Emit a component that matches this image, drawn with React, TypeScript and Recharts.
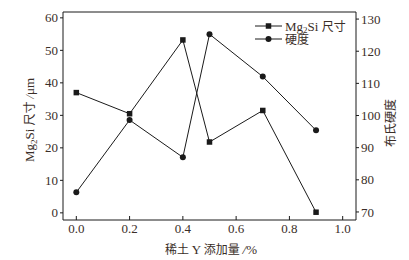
import React from 'react';
import { ComposedChart, Line, XAxis, YAxis, ReferenceLine } from 'recharts';

const yAdd = [0.0, 0.2, 0.4, 0.5, 0.7, 0.9];
const mg2siSize = [37.0, 30.5, 53.2, 21.8, 31.5, 0.2];
const hardness = [76.1, 98.6, 87.0, 125.3, 112.1, 95.4];
const xTicks = [0.0, 0.2, 0.4, 0.6, 0.8, 1.0];
const leftTicks = [0, 10, 20, 30, 40, 50, 60];
const rightTicks = [70, 80, 90, 100, 110, 120, 130];

const data = yAdd.map((x, i) => ({ x, size: mg2siSize[i], hard: hardness[i] }));

const SERIF = '"Liberation Serif", "Noto Sans CJK SC", serif';
const CJK = '"Noto Sans CJK SC", sans-serif';
const TXT = '#3a2e28';
const LINE = '#1a1a1a';

const SquareDot = (props: any) => {
  const { cx, cy } = props;
  if (cx == null || cy == null) return null;
  return <rect x={cx - 2.75} y={cy - 2.75} width={5.5} height={5.5} fill={LINE} />;
};
const CircleDot = (props: any) => {
  const { cx, cy } = props;
  if (cx == null || cy == null) return null;
  return <circle cx={cx} cy={cy} r={3} fill={LINE} />;
};

const LeftTitle = () => (
  <text
    transform="translate(34,120) rotate(-90)"
    textAnchor="middle"
    fill={TXT}
    fontSize={13}
    fontFamily={SERIF}
  >
    <tspan>M</tspan>
    <tspan>g</tspan>
    <tspan fontSize={9} dy={3}>2</tspan>
    <tspan dy={-3}>Si </tspan>
    <tspan fontFamily={CJK} fontSize={12}>尺寸 </tspan>
    <tspan fontStyle="italic">/</tspan>
    <tspan>μm</tspan>
  </text>
);

const RightTitle = () => (
  <text
    transform="translate(395,123) rotate(-90)"
    textAnchor="middle"
    fill={TXT}
    fontSize={12}
    fontFamily={CJK}
  >
    布氏硬度
  </text>
);

const BottomTitle = () => (
  <text x={211} y={254} textAnchor="middle" fill={TXT} fontSize={13} fontFamily={SERIF}>
    <tspan fontFamily={CJK} fontSize={12}>稀土 </tspan>
    <tspan>Y </tspan>
    <tspan fontFamily={CJK} fontSize={12}>添加量 </tspan>
    <tspan fontStyle="italic">/</tspan>
    <tspan>%</tspan>
  </text>
);

const LegendBox = () => (
  <g transform="translate(254,19)">
    <line x1={1} y1={7} x2={28} y2={7} stroke={LINE} strokeWidth={1} />
    <rect x={11.75} y={4.25} width={5.5} height={5.5} fill={LINE} />
    <text x={31} y={11.5} fontSize={13} fontFamily={SERIF} fill={TXT}>
      <tspan>Mg</tspan>
      <tspan fontSize={9} dy={2}>2</tspan>
      <tspan dy={-2}>Si </tspan>
      <tspan fontFamily={CJK} fontSize={12}>尺寸</tspan>
    </text>
    <line x1={1} y1={20} x2={28} y2={20} stroke={LINE} strokeWidth={1} />
    <circle cx={14.5} cy={20} r={3} fill={LINE} />
    <text x={31} y={24.5} fontSize={12} fontFamily={CJK} fill={TXT}>硬度</text>
  </g>
);

const tickStyle = { fontSize: 13, fontFamily: SERIF, fill: TXT };

export default function App() {
  return (
    <div style={{ position: 'absolute', left: 0, top: 0, width: 409, height: 260, background: '#fff' }}>
      <ComposedChart
        width={409}
        height={260}
        data={data}
        margin={{ top: 12, right: 0, bottom: 0, left: 0 }}
      >
        <XAxis
          dataKey="x"
          type="number"
          domain={[-0.05, 1.05]}
          ticks={xTicks}
          tickFormatter={(v: number) => v.toFixed(1)}
          tick={tickStyle}
          tickSize={-4}
          tickMargin={8}
          height={40}
          stroke={LINE}
          allowDataOverflow
        />
        <YAxis
          yAxisId="left"
          domain={[-2.2, 61.8]}
          ticks={leftTicks}
          tick={tickStyle}
          tickSize={3}
          tickMargin={2}
          width={63}
          stroke={LINE}
          allowDataOverflow
        />
        <YAxis
          yAxisId="right"
          orientation="right"
          domain={[67.5, 132.2]}
          ticks={rightTicks}
          tick={tickStyle}
          tickSize={3}
          tickMargin={2}
          width={53}
          stroke={LINE}
          allowDataOverflow
        />
        <ReferenceLine yAxisId="left" y={61.8} stroke={LINE} ifOverflow="visible" />
        <Line
          yAxisId="left"
          dataKey="size"
          stroke={LINE}
          strokeWidth={1}
          dot={<SquareDot />}
          activeDot={false}
          isAnimationActive={false}
        />
        <Line
          yAxisId="right"
          dataKey="hard"
          stroke={LINE}
          strokeWidth={1}
          dot={<CircleDot />}
          activeDot={false}
          isAnimationActive={false}
        />
        <LeftTitle />
        <RightTitle />
        <BottomTitle />
        <LegendBox />
      </ComposedChart>
    </div>
  );
}
